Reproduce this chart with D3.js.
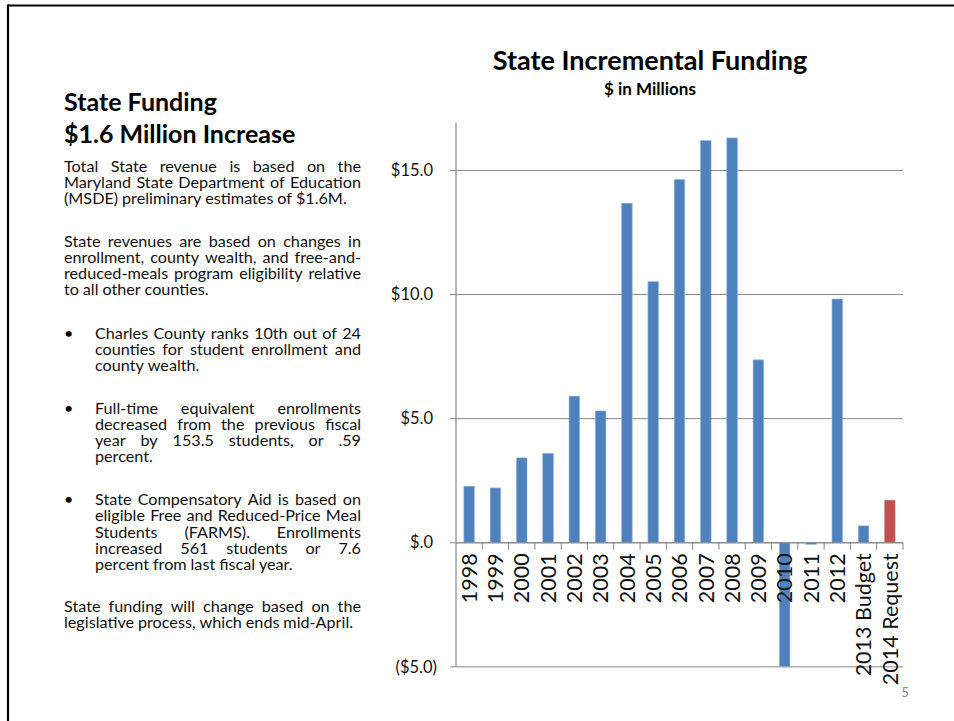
<!DOCTYPE html>
<html>
<head>
<meta charset="utf-8">
<script src="https://cdn.jsdelivr.net/npm/d3@7/dist/d3.min.js"></script>
<style>
  html, body { margin: 0; padding: 0; background: #fff; }
  svg { display: block; font-family: Lato, "Open Sans", sans-serif; }
</style>
</head>
<body>
<svg id="slide" width="954" height="721"></svg>
<script>
// Incremental state funding by fiscal year, $ millions
const categories = ["1998", "1999", "2000", "2001", "2002", "2003", "2004", "2005", "2006",
  "2007", "2008", "2009", "2010", "2011", "2012", "2013 Budget", "2014 Request"];
const funding = [2.26, 2.19, 3.40, 3.58, 5.89, 5.29, 13.66, 10.50, 14.61,
  16.18, 16.29, 7.35, -5.0, -0.08, 9.80, 0.66, 1.70];
const requestCategory = "2014 Request";
const yTicks = [-5, 0, 5, 10, 15];

// Side panel copy, one entry per printed line; "j" marks a justified line
const headings = ["State Funding", "$1.6 Million Increase"];
const paragraphs = [
  { indent: false, bullet: false, lines: [
    ["Total State revenue is based on the", "j"],
    ["Maryland State Department of Education", "j"],
    ["(MSDE) preliminary estimates of $1.6M.", ""]] },
  { indent: false, bullet: false, lines: [
    ["State revenues are based on changes in", "j"],
    ["enrollment, county wealth, and free-and-", "j"],
    ["reduced-meals program eligibility relative", "j"],
    ["to all other counties.", ""]] },
  { indent: true, bullet: true, lines: [
    ["Charles County ranks 10th out of 24", "j"],
    ["counties for student enrollment and", "j"],
    ["county wealth.", ""]] },
  { indent: true, bullet: true, lines: [
    ["Full-time equivalent enrollments", "j"],
    ["decreased from the previous fiscal", "j"],
    ["year by 153.5 students, or .59", "j"],
    ["percent.", ""]] },
  { indent: true, bullet: true, lines: [
    ["State Compensatory Aid is based on", "j"],
    ["eligible Free and Reduced-Price Meal", "j"],
    ["Students (FARMS). Enrollments", "j"],
    ["increased 561 students or 7.6", "j"],
    ["percent from last fiscal year.", ""]] },
  { indent: false, bullet: false, lines: [
    ["State funding will change based on the", "j"],
    ["legislative process, which ends mid-April.", ""]] }
];
const paragraphTops = [171.5, 246.5, 338.5, 413.5, 505, 611.5];

const svg = d3.select("#slide");

// slide frame
svg.append("line").attr("x1", 8).attr("x2", 954).attr("y1", 5.5).attr("y2", 5.5)
  .attr("stroke", "#000").attr("stroke-width", 2.2);
svg.append("line").attr("x1", 8).attr("x2", 8).attr("y1", 4.5).attr("y2", 721)
  .attr("stroke", "#000").attr("stroke-width", 2.2);

// ---------- side panel ----------
const panel = svg.append("g").attr("fill", "#000");
headings.forEach((h, i) => {
  panel.append("text").attr("x", 64).attr("y", 111 + i * 32)
    .attr("font-size", 25).attr("font-weight", 700).text(h);
});

const bodySize = 16.2;
const lineGap = 16.3;
const rightEdge = 361;

// words are set one by one; justified lines spread the gaps to fill the column
function placeLine(g, words, x0, x1, y, justify) {
  const nodes = words.map(w => g.append("text").attr("y", y)
    .attr("font-size", bodySize).attr("fill", "#111").text(w));
  const widths = nodes.map(n => n.node().getComputedTextLength());
  const total = d3.sum(widths);
  const space = bodySize * 0.24;
  const gap = (justify && words.length > 1) ? (x1 - x0 - total) / (words.length - 1) : space;
  let x = x0;
  nodes.forEach((n, i) => { n.attr("x", x); x += widths[i] + gap; });
}

paragraphs.forEach((p, pi) => {
  const x0 = p.indent ? 95 : 64;
  p.lines.forEach((ln, li) => {
    const y = paragraphTops[pi] + li * lineGap;
    placeLine(panel, ln[0].split(" "), x0, rightEdge, y, ln[1] === "j");
  });
  if (p.bullet) {
    panel.append("text").attr("x", 64).attr("y", paragraphTops[pi])
      .attr("font-size", bodySize).text("\u2022");
  }
});

// ---------- chart ----------
const chartTitle = svg.append("g").attr("text-anchor", "middle").attr("fill", "#000");
chartTitle.append("text").attr("x", 650).attr("y", 70)
  .attr("font-size", 27).attr("font-weight", 700).text("State Incremental Funding");
chartTitle.append("text").attr("x", 650).attr("y", 95)
  .attr("font-size", 17).attr("font-weight", 700).text("$ in Millions");

const x = d3.scaleBand().domain(categories).range([456, 903]).padding(0);
const y = d3.scaleLinear().domain([-5, 16.9]).range([666.4, 122.8]);

const grid = "#878787";

// horizontal gridlines and value labels
const yAxis = d3.axisLeft(y).tickValues(yTicks).tickSize(6)
  .tickFormat(v => v < 0 ? `($${Math.abs(v).toFixed(1)})` : (v === 0 ? "$.0" : `$${v.toFixed(1)}`));
const yg = svg.append("g").attr("transform", "translate(456,0)").call(yAxis);
yg.select(".domain").remove();
yg.selectAll(".tick line").attr("stroke", grid).attr("x1", -6).attr("x2", 903 - 456);
yg.selectAll(".tick text").attr("font-family", "Lato, sans-serif").attr("font-size", 16.5)
  .attr("fill", "#111").attr("x", d => d < 0 ? -19 : -23).attr("dy", "0.34em");
svg.append("line").attr("x1", 456).attr("x2", 456).attr("y1", y(16.9)).attr("y2", y(-5))
  .attr("stroke", grid).attr("stroke-width", 1.2);

// bars
const barW = x.bandwidth() * 0.4;
svg.append("g").selectAll("rect").data(categories).join("rect")
  .attr("x", (c) => x(c) + (x.bandwidth() - barW) / 2)
  .attr("width", barW)
  .attr("y", (c, i) => y(Math.max(0, funding[i])))
  .attr("height", (c, i) => Math.abs(y(funding[i]) - y(0)))
  .attr("fill", c => c === requestCategory ? "#C0504D" : "#4F81BD")
  .attr("stroke", c => c === requestCategory ? "#D98B89" : "#8FB1DA")
  .attr("stroke-width", 0.6);

// category axis on the zero line
const xAxis = d3.axisBottom(x).tickSize(0).tickSizeOuter(0);
const xg = svg.append("g").attr("transform", `translate(0,${y(0)})`).call(xAxis);
xg.select(".domain").attr("stroke", grid).attr("d", `M456,0.5H903`);
xg.selectAll(".tick text").attr("font-family", "Lato, sans-serif").attr("font-size", 21.5)
  .attr("fill", "#111").attr("text-anchor", "end")
  .attr("transform", "rotate(-90)").attr("x", -11).attr("y", 0).attr("dy", "0.36em");
const bounds = categories.map(c => x(c)).concat([903]);
svg.append("g").selectAll("line").data(bounds.slice(1)).join("line")
  .attr("x1", d => d).attr("x2", d => d).attr("y1", y(0)).attr("y2", y(0) + 7.5)
  .attr("stroke", grid);

// slide number
svg.append("text").attr("x", 905).attr("y", 697).attr("text-anchor", "middle")
  .attr("font-size", 13).attr("fill", "#8c8c8c").text("5");
</script>
</body>
</html>
